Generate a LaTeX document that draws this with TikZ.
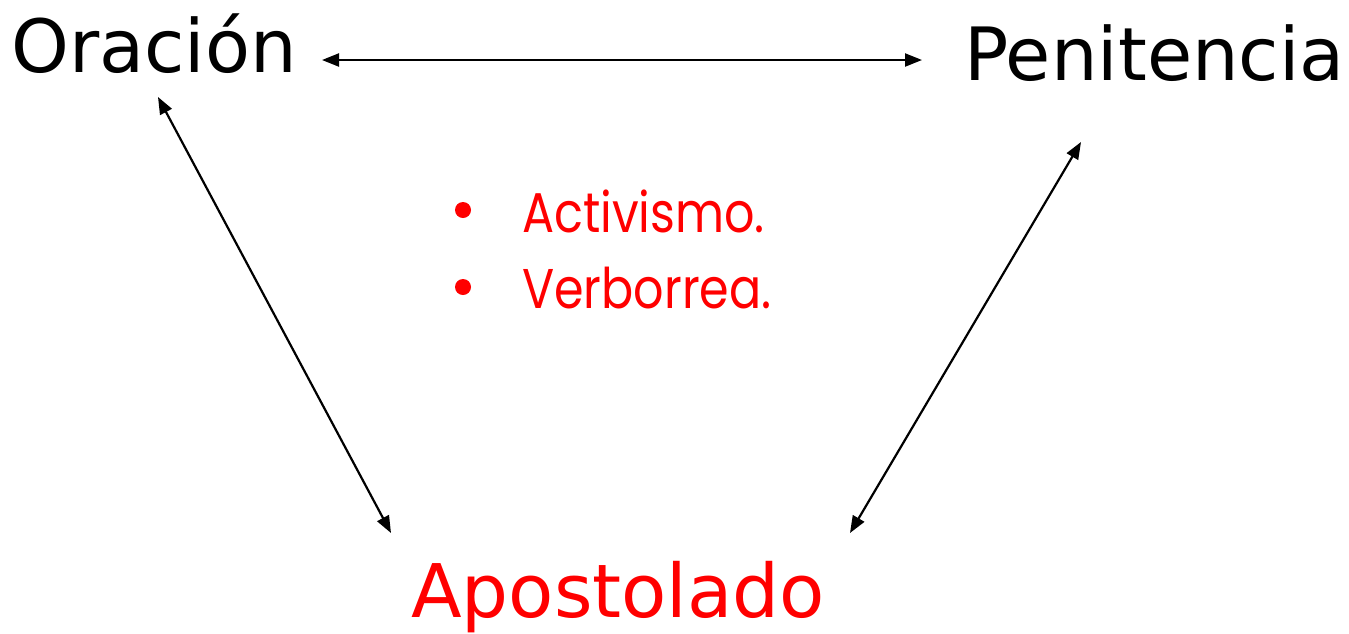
\documentclass[tikz,border=0pt]{standalone}
\usepackage{fontspec}
\usepackage{graphicx}
\setmainfont{DejaVu Sans}
\newfontfamily\bulletfont{Poppins}
\usetikzlibrary{arrows.meta}
\definecolor{pptred}{RGB}{255,0,0}
\newcommand{\narrowtext}[1]{\scalebox{0.85}[1]{#1}}
\tikzset{
  bigword/.style={inner sep=0pt, anchor=base west, font=\fontsize{73.5}{80}\selectfont},
  listword/.style={inner sep=0pt, anchor=base west, text=pptred, font=\bulletfont\fontsize{56}{60}\selectfont},
  bulletdot/.style={circle, fill=pptred, inner sep=0pt, minimum size=16pt},
  link/.style={line width=2.2pt, {Triangle[length=17pt,width=13pt]}-{Triangle[length=17pt,width=13pt]}}
}
\begin{document}
\begin{tikzpicture}[x=1pt,y=-1pt]
\useasboundingbox (0,0) rectangle (1349,633);
\node[bigword] (orac) at (11,72) {Oración};
\node[bigword] (peni) at (964,80) {Penitencia};
\node[bigword, text=pptred, font=\fontsize{74}{80}\selectfont] (apos) at (411,617) {Apostolado};
\node[bulletdot] (b1) at (463,210) {};
\node[bulletdot] (b2) at (463,287) {};
\node[listword] (act) at (522,232) {\narrowtext{Activismo.}};
\node[listword] (ver) at (522,308) {\narrowtext{Verborrea.}};
\coordinate (oracR) at (322,60);
\coordinate (peniL) at (922,60);
\coordinate (oracB) at (158,97);
\coordinate (aposL) at (391,533);
\coordinate (peniB) at (1081,142);
\coordinate (aposR) at (850,533);
\draw[link] (oracR) -- (peniL);
\draw[link] (oracB) -- (aposL);
\draw[link] (peniB) -- (aposR);
\end{tikzpicture}
\end{document}
